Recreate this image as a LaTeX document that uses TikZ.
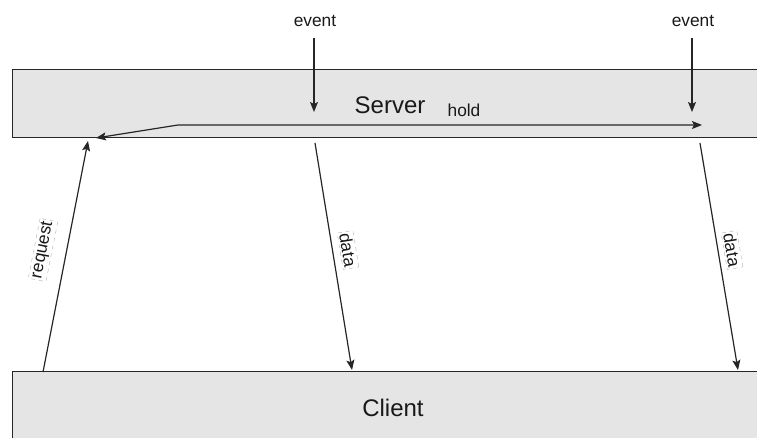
\documentclass[tikz,border=0pt]{standalone}
\usepackage{fontspec}
\setmainfont{Liberation Sans}
\usetikzlibrary{arrows.meta}
\begin{document}
\begin{tikzpicture}[x=0.75pt,y=-0.75pt,
  lane/.style={draw=black!85, line width=0.9pt, fill=black!10, inner sep=0pt},
  flow/.style={draw=black!85, line width=0.9pt,
    -{Stealth[length=7.5pt,width=6pt,inset=1.5pt]}},
  twoway/.style={draw=black!85, line width=0.9pt,
    {Stealth[length=7.5pt,width=6pt,inset=1.5pt]}-{Stealth[length=7.5pt,width=6pt,inset=1.5pt]}},
  big/.style={font=\fontsize{18}{21}\selectfont, text=black!90},
  small/.style={font=\fontsize{13}{15}\selectfont, text=black!90},
  tag/.style={small, fill=white, draw=black!30, dashed, line width=0.3pt, inner sep=1.2pt}]
\useasboundingbox (0,0) rectangle (757,438);
\clip (0,0) rectangle (757,438);

% lanes
\node[lane, anchor=north west, minimum width=570pt, minimum height=51pt] (server) at (12,69) {};
\node[lane, anchor=north west, minimum width=570pt, minimum height=62pt] (client) at (12,371) {};
\node[big] (serverlabel) at (390,105) {Server};
\node[big] (clientlabel) at (393,408) {Client};
\node[small] (holdlabel) at (464,110) {hold};

% incoming events
\node[small] (ev1) at (315,21) {event};
\node[small] (ev2) at (693,21) {event};
\coordinate (ev1top) at (314,38);
\coordinate (ev1tip) at (314,112);
\coordinate (ev2top) at (692,38);
\coordinate (ev2tip) at (692,112);
\draw[flow] (ev1top) -- (ev1tip);
\draw[flow] (ev2top) -- (ev2tip);

% request held on the server
\coordinate (holdL) at (96,138);
\coordinate (holdB) at (178,125);
\coordinate (holdR) at (702,125);
\draw[twoway] (holdL) -- (holdB) -- (holdR);

% request from the client
\coordinate (reqS) at (43,372);
\coordinate (reqT) at (88,141);
\draw[flow] (reqS) -- (reqT);
\node[tag, rotate=78.8] (reqlabel) at (43,250) {request};

% data sent back to the client
\coordinate (d1S) at (315,143);
\coordinate (d1T) at (352,370);
\coordinate (d2S) at (700,143);
\coordinate (d2T) at (738,370);
\draw[flow] (d1S) -- (d1T);
\draw[flow] (d2S) -- (d2T);
\node[tag, rotate=-80.7] (d1label) at (348,250) {data};
\node[tag, rotate=-80.5] (d2label) at (732,250) {data};
\end{tikzpicture}
\end{document}
